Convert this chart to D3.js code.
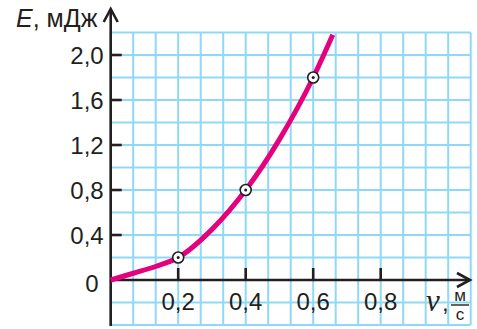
<!DOCTYPE html>
<html>
<head>
<meta charset="utf-8">
<script src="https://cdn.jsdelivr.net/npm/d3@7"></script>
<style>
  body { margin: 0; background: #fff; }
  svg { display: block; font-family: "Liberation Sans", Arial, sans-serif; }
</style>
</head>
<body>
<div class="chart"></div>
<script>
// данные
const v_values = [0, 0.067, 0.133, 0.2, 0.3, 0.4, 0.5, 0.6, 0.658];
const e_values = [0, 0.06, 0.12, 0.2, 0.45, 0.8, 1.25, 1.8, 2.18];
const point_v = [0.2, 0.4, 0.6];
const point_e = [0.2, 0.8, 1.8];
const x_ticks = [0.2, 0.4, 0.6, 0.8];
const x_tick_labels = ['0,2', '0,4', '0,6', '0,8'];
const y_ticks = [0.4, 0.8, 1.2, 1.6, 2.0];
const y_tick_labels = ['0,4', '0,8', '1,2', '1,6', '2,0'];
const grid_x = d3.range(0, 17).map(i => i / 15);     // клетки по 1/15 м/с
const grid_y = d3.range(-2, 12).map(i => i * 0.2);   // клетки по 0,2 мДж

const width = 477, height = 329;
const svg = d3.select('.chart').append('svg')
    .attr('width', width).attr('height', height);

const x = d3.scaleLinear().domain([0, 1]).range([110.7, 448.2]);
const y = d3.scaleLinear().domain([0, 1]).range([280, 167.5]);

const grid_color = '#8fd9f6';
const ink = '#231f20';

// сетка
const grid = svg.append('g').attr('class', 'grid');
grid.selectAll('.vline').data(grid_x).enter().append('line')
    .attr('x1', d => x(d)).attr('x2', d => x(d))
    .attr('y1', y(-0.4)).attr('y2', y(2.2))
    .style('stroke', grid_color).style('stroke-width', 2);
grid.selectAll('.hline').data(grid_y).enter().append('line')
    .attr('x1', x(0)).attr('x2', x(16 / 15))
    .attr('y1', d => y(d)).attr('y2', d => y(d))
    .style('stroke', grid_color).style('stroke-width', 2);

// оси
const axes = svg.append('g').attr('class', 'axes')
    .style('stroke', ink).style('stroke-width', 2.6).style('fill', 'none');
axes.append('line')
    .attr('x1', x(0)).attr('x2', x(0)).attr('y1', y(-0.4) + 1).attr('y2', 9);
axes.append('path')
    .attr('d', `M${x(0) - 7},${22} L${x(0)},${9} L${x(0) + 7},${22}`);
axes.append('line')
    .attr('x1', x(0)).attr('x2', 470).attr('y1', y(0)).attr('y2', y(0));
axes.append('path')
    .attr('d', `M${457},${y(0) - 7} L${470},${y(0)} L${457},${y(0) + 7}`);

// засечки
axes.selectAll('.ytick').data(y_ticks).enter().append('line')
    .attr('x1', x(0)).attr('x2', x(0) + 11)
    .attr('y1', d => y(d)).attr('y2', d => y(d));
axes.selectAll('.xtick').data(x_ticks).enter().append('line')
    .attr('x1', d => x(d)).attr('x2', d => x(d))
    .attr('y1', y(0)).attr('y2', y(0) - 12);

// подписи делений
const labels = svg.append('g').style('fill', ink).style('font-size', '24px');
labels.selectAll('.ylab').data(y_ticks).enter().append('text')
    .attr('x', x(0) - 7).attr('y', d => y(d))
    .attr('dy', '0.36em')
    .style('text-anchor', 'end')
    .text((d, i) => y_tick_labels[i]);
labels.selectAll('.xlab').data(x_ticks).enter().append('text')
    .attr('x', d => x(d)).attr('y', y(0) + 30)
    .style('text-anchor', 'middle')
    .text((d, i) => x_tick_labels[i]);
labels.append('text')
    .attr('x', x(0) - 12).attr('y', y(0) + 12)
    .style('text-anchor', 'end')
    .text('0');

// подпись оси E
const y_title = svg.append('text')
    .attr('x', 16).attr('y', 27)
    .style('fill', ink).style('font-size', '25px');
y_title.append('tspan').text('E').style('font-style', 'italic');
y_title.append('tspan').text(', мДж');

// подпись оси v
svg.append('text')
    .attr('x', 426).attr('y', 311)
    .style('fill', ink).style('font-size', '31px')
    .style('font-family', '"Liberation Serif", serif').style('font-style', 'italic')
    .text('v');
svg.append('text')
    .attr('x', 442).attr('y', 311)
    .style('fill', ink).style('font-size', '24px')
    .text(',');
svg.append('text')
    .attr('x', 460).attr('y', 301)
    .style('fill', ink).style('font-size', '17px').style('text-anchor', 'middle')
    .text('м');
svg.append('line')
    .attr('x1', 451).attr('x2', 469).attr('y1', 305).attr('y2', 305)
    .style('stroke', ink).style('stroke-width', 1.4);
svg.append('text')
    .attr('x', 460).attr('y', 320)
    .style('fill', ink).style('font-size', '17px').style('text-anchor', 'middle')
    .text('с');

// кривая
const curve_data = v_values.map((d, i) => ({v: d, e: e_values[i]}));
const line_generator = d3.line()
    .x(d => x(d.v))
    .y(d => y(d.e))
    .curve(d3.curveMonotoneX);
svg.append('path')
    .attr('d', line_generator(curve_data))
    .style('fill', 'none')
    .style('stroke', '#e5007e')
    .style('stroke-width', 5)
    .style('stroke-linecap', 'butt');

// точки
const points = point_v.map((d, i) => ({v: d, e: point_e[i]}));
const pts = svg.append('g').selectAll('.pt').data(points).enter().append('g')
    .attr('transform', d => `translate(${x(d.v)},${y(d.e)})`);
pts.append('circle').attr('r', 5.5)
    .style('fill', '#fff').style('stroke', ink).style('stroke-width', 1.6);
pts.append('circle').attr('r', 1.5).style('fill', ink);
</script>
</body>
</html>
